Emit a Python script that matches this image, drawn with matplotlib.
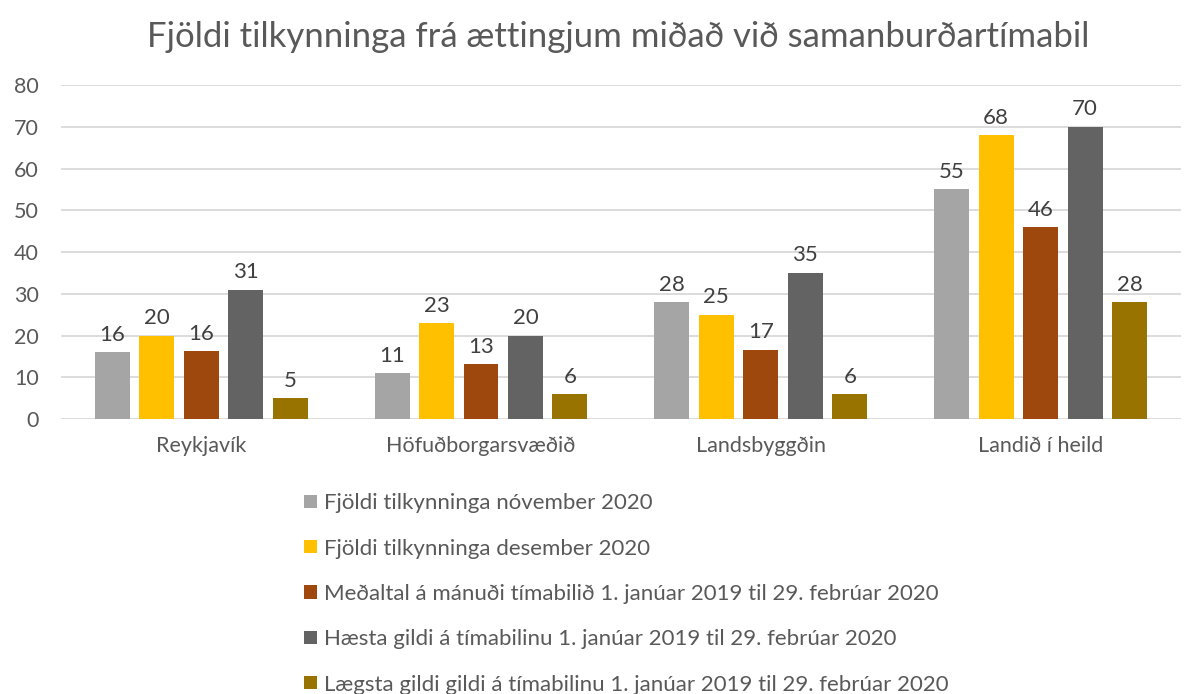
import matplotlib.pyplot as plt
import numpy as np

plt.rcParams['font.family'] = ['Lato', 'DejaVu Sans']

categories = ["Reykjavík", "Höfuðborgarsvæðið", "Landsbyggðin", "Landið í heild"]
series_names = [
    "Fjöldi tilkynninga nóvember 2020",
    "Fjöldi tilkynninga desember 2020",
    "Meðaltal á mánuði tímabilið 1. janúar 2019 til 29. febrúar 2020",
    "Hæsta gildi á tímabilinu 1. janúar 2019 til 29. febrúar 2020",
    "Lægsta gildi gildi á tímabilinu 1. janúar 2019 til 29. febrúar 2020",
]
nov_2020 = [16, 11, 28, 55]
des_2020 = [20, 23, 25, 68]
medaltal = [16.3, 13.1, 16.6, 45.9]
haesta = [31, 20, 35, 70]
laegsta = [5, 6, 6, 28]
colors = ["#A5A5A5", "#FFC000", "#9E480E", "#636363", "#997300"]

series = [nov_2020, des_2020, medaltal, haesta, laegsta]
text_col = "#595959"

fig = plt.figure(figsize=(12.01, 6.94), dpi=100)
ax = fig.add_axes([0.051, 0.396, 0.932, 0.4815])

x = np.arange(len(categories))
step = 0.159
width = 0.125
handles = []
for i, (vals, col) in enumerate(zip(series, colors)):
    pos = x + (i - 2) * step
    b = ax.bar(pos, vals, width, color=col, zorder=3)
    handles.append(b)
    for p, v in zip(pos, vals):
        ax.text(p, v + 1.8, f"{v:.0f}", ha="center", va="bottom",
                fontsize=16, color="#404040")

ax.set_xlim(-0.5, len(categories) - 0.5)
ax.set_ylim(0, 80)
ax.set_yticks(range(0, 81, 10))
ax.set_xticks(x)
ax.set_xticklabels(categories)
ax.grid(axis="y", color="#D9D9D9", linewidth=1.3, zorder=0)
for s in ax.spines.values():
    s.set_visible(False)
ax.tick_params(axis="both", length=0, labelsize=15.5, colors=text_col)
ax.tick_params(axis="x", pad=12)
ax.tick_params(axis="y", pad=16)

fig.text(0.515, 0.947, "Fjöldi tilkynninga frá ættingjum miðað við samanburðartímabil",
         ha="center", va="center", fontsize=25, color=text_col)

leg = fig.legend(handles, series_names, loc="upper left",
                 bbox_to_anchor=(0.246, 0.302), frameon=False, fontsize=16,
                 labelcolor=text_col, handlelength=0.55, handleheight=0.55,
                 handletextpad=0.35, labelspacing=1.14, borderaxespad=0)

fig.savefig("out.png", dpi=100)
